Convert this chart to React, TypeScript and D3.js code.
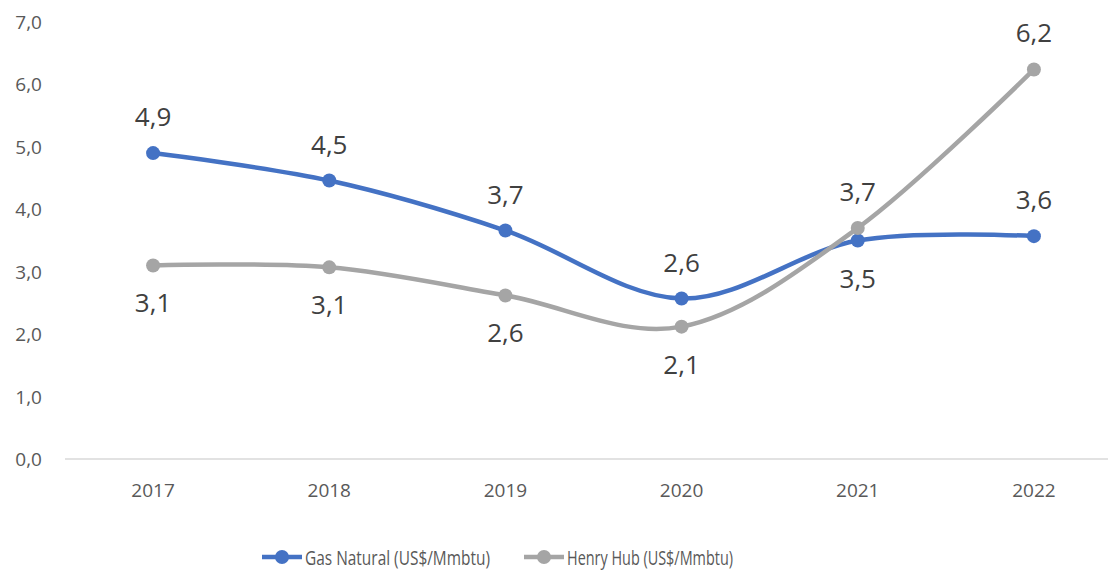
import React from "react";
import * as d3 from "d3";

const years = ["2017", "2018", "2019", "2020", "2021", "2022"];
const gasNatural = [4.9, 4.46, 3.66, 2.57, 3.5, 3.57];
const henryHub = [3.1, 3.07, 2.62, 2.12, 3.7, 6.24];
const gasLabelSide = ["above", "above", "above", "above", "below", "above"];
const henryLabelSide = ["below", "below", "below", "below", "above", "above"];
const yTicks = [0, 1, 2, 3, 4, 5, 6, 7];
const seriesNames = ["Gas Natural (US$/Mmbtu)", "Henry Hub (US$/Mmbtu)"];

const W = 1108;
const H = 571;
const FONT = "'Open Sans', 'Noto Sans', sans-serif";
const BLUE = "#4472C4";
const GRAY = "#A5A5A5";

export default function App() {
  const x = d3.scaleBand<string>().domain(years).range([65, 1122]);
  const cx = (i: number) => (x(years[i]) as number) + x.bandwidth() / 2;
  const y = d3.scaleLinear().domain([0, 7]).range([459, 22]);
  const fmt = (v: number) => v.toFixed(1).replace(".", ",");

  const line = d3
    .line<number>()
    .x((_, i) => cx(i))
    .y((d) => y(d))
    .curve(d3.curveCardinal.tension(0));

  const series = [
    { name: seriesNames[0], values: gasNatural, color: BLUE, sides: gasLabelSide },
    { name: seriesNames[1], values: henryHub, color: GRAY, sides: henryLabelSide },
  ];

  const legendItems = [
    { name: seriesNames[0], color: BLUE, x0: 262, len: 185 },
    { name: seriesNames[1], color: GRAY, x0: 524, len: 166 },
  ];
  const legendY = 557;

  return (
    <svg
      width={W}
      height={H}
      style={{ position: "absolute", left: 0, top: 0, background: "#fff" }}
      fontFamily={FONT}
    >
      <line x1={65} x2={1122} y1={y(0)} y2={y(0)} stroke="#D9D9D9" strokeWidth={1.5} />
      {yTicks.map((t) => (
        <text
          key={t}
          x={42}
          y={y(t)}
          textAnchor="end"
          dominantBaseline="central"
          fontSize={19}
          fill="#595959"
        >
          {fmt(t)}
        </text>
      ))}
      {years.map((yr, i) => (
        <text
          key={yr}
          x={cx(i)}
          y={490}
          textAnchor="middle"
          dominantBaseline="central"
          fontSize={19}
          fill="#595959"
        >
          {yr}
        </text>
      ))}
      {series.map((s) => (
        <g key={s.name}>
          <path d={line(s.values) || ""} fill="none" stroke={s.color} strokeWidth={4.5} strokeLinecap="round" />
          {s.values.map((v, i) => (
            <circle key={i} cx={cx(i)} cy={y(v)} r={7} fill={s.color} />
          ))}
        </g>
      ))}
      {series.map((s) =>
        s.values.map((v, i) => (
          <text
            key={s.name + i}
            x={cx(i)}
            y={y(v) + (s.sides[i] === "above" ? -37 : 37)}
            textAnchor="middle"
            dominantBaseline="central"
            fontSize={26}
            fill="#404040"
          >
            {fmt(v)}
          </text>
        ))
      )}
      {legendItems.map((l) => (
        <g key={l.name}>
          <line x1={l.x0} x2={l.x0 + 40} y1={legendY} y2={legendY} stroke={l.color} strokeWidth={4.5} />
          <circle cx={l.x0 + 20} cy={legendY} r={7} fill={l.color} />
          <text
            x={l.x0 + 43}
            y={legendY}
            dominantBaseline="central"
            fontSize={20}
            fill="#595959"
            textLength={l.len}
            lengthAdjust="spacingAndGlyphs"
          >
            {l.name}
          </text>
        </g>
      ))}
    </svg>
  );
}
